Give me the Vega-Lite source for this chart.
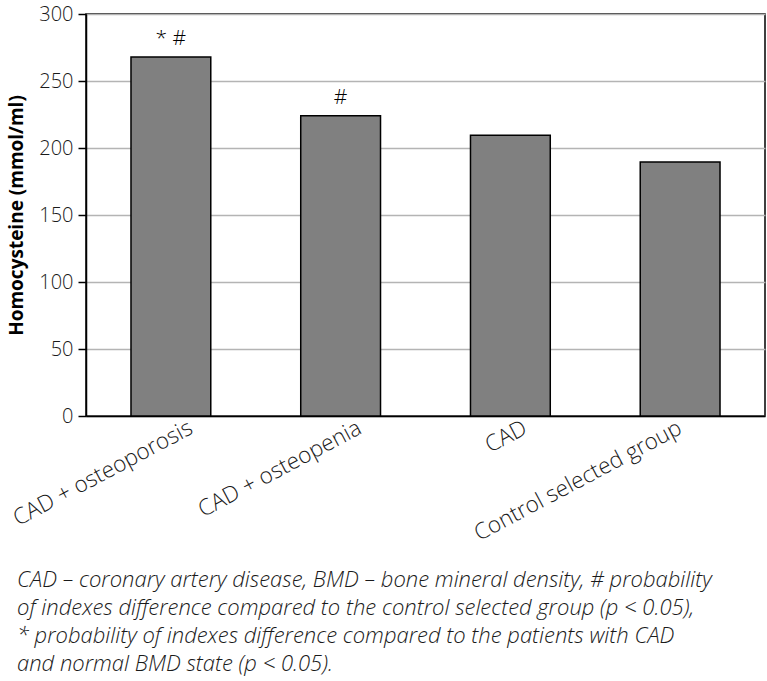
{
  "$schema": "https://vega.github.io/schema/vega-lite/v6.json",
  "width": 679,
  "height": 402,
  "autosize": "none",
  "padding": {"left": 86, "top": 14, "right": 2, "bottom": 265},
  "background": "white",
  "data": {
    "values": [
      {"group": "CAD + osteoporosis", "value": 268, "sig": "* #"},
      {"group": "CAD + osteopenia", "value": 224, "sig": "#"},
      {"group": "CAD", "value": 209.5, "sig": ""},
      {"group": "Control selected group", "value": 189.5, "sig": ""}
    ]
  },
  "title": {
    "text": [
      "CAD – coronary artery disease, BMD – bone mineral density, # probability",
      "of indexes difference compared to the control selected group (p < 0.05),",
      "* probability of indexes difference compared to the patients with CAD",
      "and normal BMD state (p < 0.05)."
    ],
    "orient": "bottom",
    "anchor": "start",
    "frame": "group",
    "dx": -69,
    "offset": 25,
    "font": "Open Sans",
    "fontSize": 22,
    "fontStyle": "italic",
    "fontWeight": 300,
    "lineHeight": 28,
    "color": "#1a1a1a"
  },
  "config": {
    "view": {"stroke": "black", "strokeWidth": 1.5},
    "axis": {
      "labelFont": "Open Sans",
      "titleFont": "Open Sans"
    }
  },
  "encoding": {
    "x": {
      "field": "group",
      "type": "nominal",
      "sort": null,
      "scale": {"paddingInner": 0.53, "paddingOuter": 0.265},
      "axis": {
        "title": null,
        "labelAngle": -28,
        "labelAlign": "right",
        "labelBaseline": "middle",
        "labelFontSize": 22.5,
        "labelFontWeight": 300,
        "labelColor": "#1a1a1a",
        "labelPadding": 10,
        "labelDx": 16,
        "labelOffset": {
          "condition": [
            {"test": "datum.value === 'CAD + osteoporosis'", "value": 20},
            {"test": "datum.value === 'CAD + osteopenia'", "value": 19},
            {"test": "datum.value === 'CAD'", "value": 15}
          ],
          "value": 0
        },
        "labelLimit": 400,
        "ticks": false,
        "domainColor": "black",
        "domainWidth": 1.5,
        "grid": false
      }
    },
    "y": {
      "field": "value",
      "type": "quantitative",
      "scale": {"domain": [0, 300]},
      "axis": {
        "title": "Homocysteine (mmol/ml)",
        "titleFontSize": 19,
        "titleFontWeight": "bold",
        "titleColor": "black",
        "titlePadding": 12,
        "values": [0, 50, 100, 150, 200, 250, 300],
        "labelFontSize": 20,
        "labelFontWeight": 300,
        "labelColor": "#1a1a1a",
        "labelPadding": 5,
        "tickSize": 8,
        "tickColor": "black",
        "tickWidth": 1.5,
        "domainColor": "black",
        "domainWidth": 1.5,
        "grid": true,
        "gridColor": "#b4b4b4",
        "gridWidth": 1.5
      }
    }
  },
  "layer": [
    {
      "mark": {"type": "bar", "fill": "#808080", "stroke": "black", "strokeWidth": 1.5}
    },
    {
      "mark": {"type": "text", "baseline": "bottom", "dy": -8, "fontSize": 21, "font": "Open Sans", "fontWeight": 300, "color": "black"},
      "encoding": {"text": {"field": "sig"}}
    }
  ]
}
